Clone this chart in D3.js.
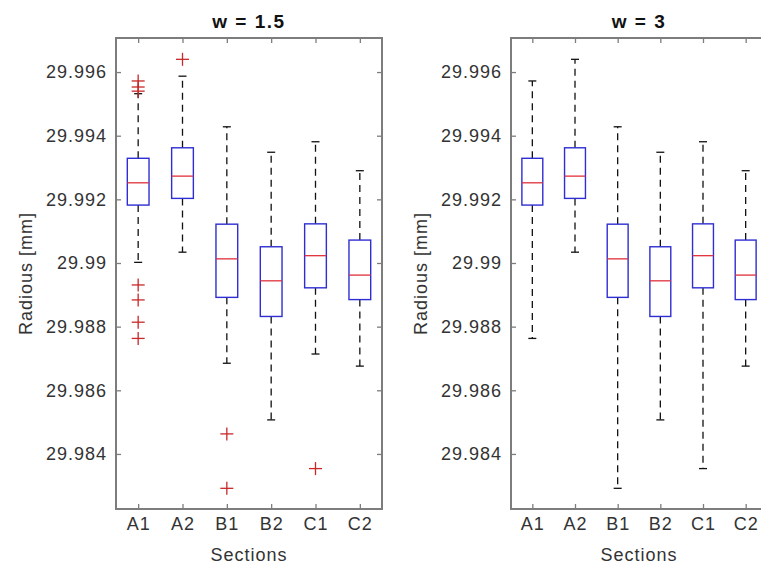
<!DOCTYPE html>
<html>
<head>
<meta charset="utf-8">
<script src="https://cdn.jsdelivr.net/npm/d3@7"></script>
<style>
body { margin: 0; background: #fff; }
text { font-family: "Liberation Sans", Arial, Helvetica, sans-serif; }
</style>
</head>
<body>
<div class="chart_box"></div>
<script>
var sections = ["A1", "A2", "B1", "B2", "C1", "C2"];

// box statistics, same for both panels
var q1      = [29.99182, 29.99203, 29.98892, 29.98832, 29.98922, 29.98885];
var medians = [29.99252, 29.99273, 29.99013, 29.98944, 29.99023, 29.98962];
var q3      = [29.99329, 29.99362, 29.99122, 29.99051, 29.99123, 29.99072];

// w = 1.5
var w15_low  = [29.99002, 29.99034, 29.98685, 29.98507, 29.98714, 29.98676];
var w15_high = [29.99532, 29.99587, 29.99428, 29.99348, 29.99381, 29.99290];
var w15_outliers = [
  [29.99572, 29.99553, 29.99540, 29.98931, 29.98884, 29.98814, 29.98763],
  [29.99640],
  [29.98463, 29.98292],
  [],
  [29.98354],
  []
];

// w = 3
var w3_low  = [29.98763, 29.99034, 29.98292, 29.98507, 29.98354, 29.98676];
var w3_high = [29.99572, 29.99640, 29.99428, 29.99348, 29.99381, 29.99290];
var w3_outliers = [[], [], [], [], [], []];

var yTicks = [29.984, 29.986, 29.988, 29.99, 29.992, 29.994, 29.996];
var yLimits = [29.98227, 29.99707];

var width = 761;
var height = 566;
var top_y = 38;
var bottom_y = 509;

var axisColor = "#7d7d7d";
var textColor = "#333";
var boxColor = "#2e2ed2";
var medColor = "#e0303a";
var outColor = "#c82828";

var svg = d3.select(".chart_box")
  .append("svg")
  .attr("width", width)
  .attr("height", height)
  .style("display", "block");

svg.append("rect").attr("width", width).attr("height", height).attr("fill", "#fff");

function drawPanel(x0, x1, title, low, high, outliers) {

  var xScale = d3.scalePoint().domain(sections).range([x0, x1]).padding(0.5);
  var yScale = d3.scaleLinear().domain(yLimits).range([bottom_y, top_y]);
  var step = xScale.step();
  var boxW = step * 0.49;
  var capW = 8;

  var g = svg.append("g");

  var rows = sections.map(function(s, i) {
    return {key: s, q1: q1[i], med: medians[i], q3: q3[i], lo: low[i], hi: high[i], out: outliers[i]};
  });

  // whiskers
  var wg = g.selectAll(".whisk").data(rows).enter().append("g").attr("class", "whisk");
  wg.append("line")
    .attr("x1", d => xScale(d.key)).attr("x2", d => xScale(d.key))
    .attr("y1", d => yScale(d.q3)).attr("y2", d => yScale(d.hi))
    .attr("stroke", "#111").attr("stroke-width", 1.3).attr("stroke-dasharray", "7,5");
  wg.append("line")
    .attr("x1", d => xScale(d.key)).attr("x2", d => xScale(d.key))
    .attr("y1", d => yScale(d.q1)).attr("y2", d => yScale(d.lo))
    .attr("stroke", "#111").attr("stroke-width", 1.3).attr("stroke-dasharray", "7,5");
  wg.append("line")
    .attr("x1", d => xScale(d.key) - capW / 2).attr("x2", d => xScale(d.key) + capW / 2)
    .attr("y1", d => yScale(d.hi)).attr("y2", d => yScale(d.hi))
    .attr("stroke", "#111").attr("stroke-width", 1.3);
  wg.append("line")
    .attr("x1", d => xScale(d.key) - capW / 2).attr("x2", d => xScale(d.key) + capW / 2)
    .attr("y1", d => yScale(d.lo)).attr("y2", d => yScale(d.lo))
    .attr("stroke", "#111").attr("stroke-width", 1.3);

  // boxes
  g.selectAll(".box").data(rows).enter().append("rect")
    .attr("class", "box")
    .attr("x", d => xScale(d.key) - boxW / 2)
    .attr("y", d => yScale(d.q3))
    .attr("width", boxW)
    .attr("height", d => yScale(d.q1) - yScale(d.q3))
    .attr("fill", "#fff")
    .attr("stroke", boxColor)
    .attr("stroke-width", 1.4);

  g.selectAll(".median").data(rows).enter().append("line")
    .attr("class", "median")
    .attr("x1", d => xScale(d.key) - boxW / 2).attr("x2", d => xScale(d.key) + boxW / 2)
    .attr("y1", d => yScale(d.med)).attr("y2", d => yScale(d.med))
    .attr("stroke", medColor).attr("stroke-width", 1.3);

  // outliers as + markers
  var pts = [];
  rows.forEach(function(r) {
    r.out.forEach(function(v) { pts.push({key: r.key, value: v}); });
  });
  var pg = g.selectAll(".outlier").data(pts).enter().append("g")
    .attr("class", "outlier")
    .attr("transform", d => "translate(" + xScale(d.key) + "," + yScale(d.value) + ")");
  pg.append("line").attr("x1", -6.5).attr("x2", 6.5).attr("stroke", outColor).attr("stroke-width", 1.3);
  pg.append("line").attr("y1", -6.5).attr("y2", 6.5).attr("stroke", outColor).attr("stroke-width", 1.3);

  // axes, ticks pointing inward
  var left = g.append("g").attr("transform", "translate(" + x0 + ",0)")
    .call(d3.axisLeft(yScale).tickValues(yTicks).tickSizeInner(-5).tickSizeOuter(0).tickPadding(9)
      .tickFormat(d => String(+d.toFixed(3))));
  var right = g.append("g").attr("transform", "translate(" + x1 + ",0)")
    .call(d3.axisRight(yScale).tickValues(yTicks).tickSizeInner(-5).tickSizeOuter(0).tickFormat(""));
  var bottom = g.append("g").attr("transform", "translate(0," + bottom_y + ")")
    .call(d3.axisBottom(xScale).tickSizeInner(-5).tickSizeOuter(0).tickPadding(8));
  var topAx = g.append("g").attr("transform", "translate(0," + top_y + ")")
    .call(d3.axisTop(xScale).tickSizeInner(-5).tickSizeOuter(0).tickFormat(""));

  [left, right, bottom, topAx].forEach(function(a) {
    a.select(".domain").remove();
    a.selectAll(".tick line").attr("stroke", axisColor).attr("stroke-width", 1.3);
    a.selectAll(".tick text")
      .attr("fill", textColor)
      .style("font-size", "18px")
      .style("letter-spacing", "1px");
  });

  g.append("rect")
    .attr("x", x0).attr("y", top_y)
    .attr("width", x1 - x0).attr("height", bottom_y - top_y)
    .attr("fill", "none")
    .attr("stroke", axisColor)
    .attr("stroke-width", 2);

  g.append("text")
    .attr("x", (x0 + x1) / 2)
    .attr("y", 28)
    .attr("text-anchor", "middle")
    .attr("fill", "#111")
    .style("font-size", "19px")
    .style("font-weight", "bold")
    .style("letter-spacing", "1.5px")
    .text(title);

  g.append("text")
    .attr("x", (x0 + x1) / 2)
    .attr("y", 561)
    .attr("text-anchor", "middle")
    .attr("fill", textColor)
    .style("font-size", "18px")
    .style("letter-spacing", "1px")
    .text("Sections");

  g.append("text")
    .attr("transform", "translate(" + (x0 - 84) + "," + ((top_y + bottom_y) / 2) + ") rotate(-90)")
    .attr("text-anchor", "middle")
    .attr("fill", textColor)
    .style("font-size", "18px")
    .style("letter-spacing", "1px")
    .text("Radious [mm]");
}

drawPanel(116, 382, "w = 1.5", w15_low, w15_high, w15_outliers);
drawPanel(511, 767, "w = 3", w3_low, w3_high, w3_outliers);
</script>
</body>
</html>
